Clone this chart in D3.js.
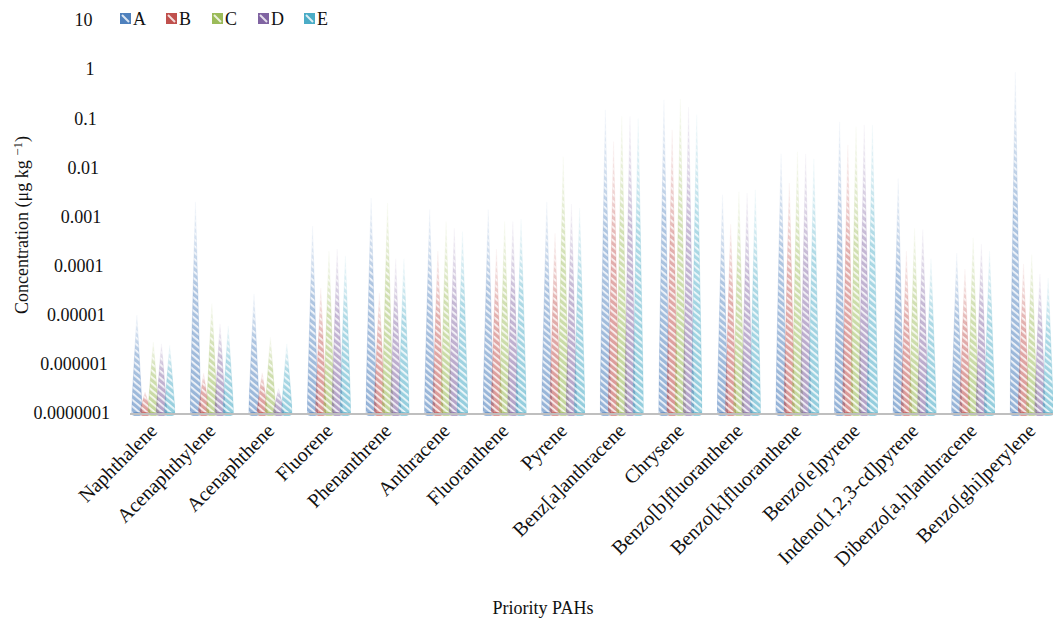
<!DOCTYPE html>
<html>
<head>
<meta charset="utf-8">
<script src="https://cdn.jsdelivr.net/npm/d3@7"></script>
<style>
  body { margin: 0; background: #fff; }
  text { font-family: "Liberation Serif", "Times New Roman", serif; fill: #111; }
</style>
</head>
<body>
<div class="chart"></div>
<script>
// categories and series
const categories = ["Naphthalene", "Acenaphthylene", "Acenaphthene", "Fluorene", "Phenanthrene",
    "Anthracene", "Fluoranthene", "Pyrene", "Benz[a]anthracene", "Chrysene",
    "Benzo[b]fluoranthene", "Benzo[k]fluoranthene", "Benzo[e]pyrene",
    "Indeno[1,2,3-cd]pyrene", "Dibenzo[a,h]anthracene", "Benzo[ghi]perylene"];
const seriesNames = ["A", "B", "C", "D", "E"];
const seriesColors = ["#4f81bd", "#c0504d", "#9bbb59", "#8064a2", "#4bacc6"];

const A = [1e-5, 2e-3, 2.7e-5, 6.4e-4, 2.4e-3, 1.4e-3, 1.4e-3, 2e-3, 0.15, 0.24, 2.8e-3, 0.019, 0.085, 6e-3, 1.8e-4, 0.88];
const B = [2.7e-7, 6.5e-7, 6.7e-7, 3.5e-5, 2.8e-5, 2e-4, 2.2e-4, 4.6e-4, 0.034, 0.059, 7e-4, 4.8e-3, 0.029, 2e-4, 8.6e-5, 1.1e-4];
const C = [2.8e-6, 1.7e-5, 3.5e-6, 2e-4, 1.9e-3, 8e-4, 8e-4, 0.0166, 0.11, 0.25, 3.2e-3, 0.021, 0.068, 5.8e-4, 3.7e-4, 1.7e-4];
const D = [2.6e-6, 6.6e-6, 3.2e-7, 2.2e-4, 1.4e-4, 5.8e-4, 8e-4, 1.8e-3, 0.11, 0.17, 3e-3, 0.019, 0.074, 5.5e-4, 2.8e-4, 6.8e-5];
const E = [2.4e-6, 6e-6, 2.6e-6, 1.6e-4, 1.4e-4, 5e-4, 8.9e-4, 1.5e-3, 0.1, 0.12, 3.5e-3, 0.015, 0.074, 1.4e-4, 2e-4, 5.6e-5];
const seriesValues = [A, B, C, D, E];

const yTicks = [1e-7, 1e-6, 1e-5, 1e-4, 1e-3, 1e-2, 1e-1, 1, 10];
const yTickLabels = ["0.0000001", "0.000001", "0.00001", "0.0001", "0.001", "0.01", "0.1", "1", "10"];

const width = 1053, height = 624;

const svg = d3.select(".chart").append("svg")
    .attr("width", width)
    .attr("height", height);

const defs = svg.append("defs");

// hatch pattern per series
seriesColors.forEach((c, i) => {
    const p = defs.append("pattern")
        .attr("id", "hatch" + i)
        .attr("patternUnits", "userSpaceOnUse")
        .attr("width", 5).attr("height", 5)
        .attr("patternTransform", "rotate(40)");
    p.append("rect").attr("width", 5).attr("height", 5).attr("fill", c).attr("fill-opacity", 0.6);
    p.append("rect").attr("width", 5).attr("height", 1.8).attr("fill", "#fff").attr("fill-opacity", 0.85);
});

// fade towards the tip
const grad = defs.append("linearGradient")
    .attr("id", "fade")
    .attr("x1", 0).attr("y1", 1).attr("x2", 0).attr("y2", 0);
grad.append("stop").attr("offset", 0).attr("stop-color", "#fff").attr("stop-opacity", 1);
grad.append("stop").attr("offset", 0.6).attr("stop-color", "#fff").attr("stop-opacity", 0.75);
grad.append("stop").attr("offset", 1).attr("stop-color", "#fff").attr("stop-opacity", 0.1);
defs.append("mask")
    .attr("id", "fadeMask")
    .attr("maskContentUnits", "objectBoundingBox")
    .append("rect")
    .attr("width", 1).attr("height", 1)
    .attr("fill", "url(#fade)");

// scales
const xScale = d3.scaleBand()
    .domain(categories)
    .range([124, 1061]);

const xInner = d3.scalePoint()
    .domain(seriesNames)
    .range([xScale.bandwidth() * 0.22, xScale.bandwidth() * 0.78]);

const yScale = d3.scaleLog()
    .domain([1e-7, 10])
    .range([413, 20]);

const baseW = 11;

// cones
const groups = svg.append("g").selectAll("g")
    .data(categories)
    .join("g")
    .attr("transform", d => `translate(${xScale(d)},0)`);

groups.each(function (cat, ci) {
    const g = d3.select(this);
    seriesNames.forEach((s, si) => {
        const v = seriesValues[si][ci];
        const cx = xInner(s);
        const y0 = yScale(1e-7), y1 = yScale(v);
        const path = d3.path();
        path.moveTo(cx - baseW / 2, y0);
        path.lineTo(cx, y1);
        path.lineTo(cx + baseW / 2, y0);
        path.closePath();
        g.append("path")
            .attr("d", path.toString())
            .attr("fill", `url(#hatch${si})`)
            .attr("stroke", seriesColors[si])
            .attr("stroke-opacity", 0.35)
            .attr("stroke-width", 0.8)
            .attr("mask", "url(#fadeMask)");
    });
});

// axis line
svg.append("line")
    .attr("x1", 130).attr("x2", 1053)
    .attr("y1", yScale(1e-7) + 1).attr("y2", yScale(1e-7) + 1)
    .attr("stroke", "#bfbfbf")
    .attr("stroke-width", 2);

// small bases over the axis
groups.each(function (cat) {
    const g = d3.select(this);
    seriesNames.forEach((s, si) => {
        g.append("ellipse")
            .attr("cx", xInner(s))
            .attr("cy", yScale(1e-7) + 1)
            .attr("rx", baseW / 2)
            .attr("ry", 1.8)
            .attr("fill", seriesColors[si])
            .attr("fill-opacity", 0.75);
    });
});

// y tick labels
svg.append("g").selectAll("text")
    .data(yTicks)
    .join("text")
    .attr("x", (d, i) => 110 - 2.2 * i)
    .attr("y", d => yScale(d))
    .attr("dy", "0.35em")
    .attr("text-anchor", "end")
    .style("font-size", "18px")
    .text((d, i) => yTickLabels[i]);

// x labels
svg.append("g").selectAll("text")
    .data(categories)
    .join("text")
    .attr("text-anchor", "end")
    .attr("transform", d => `translate(${xScale(d) + xScale.bandwidth() / 2 + 5},432) rotate(-45)`)
    .style("font-size", "20px")
    .text(d => d);

// axis titles
svg.append("text")
    .attr("x", 543).attr("y", 614)
    .attr("text-anchor", "middle")
    .style("font-size", "18px")
    .text("Priority PAHs");

const yTitle = svg.append("text")
    .attr("transform", "translate(28,225) rotate(-90)")
    .attr("text-anchor", "middle")
    .style("font-size", "18px");
yTitle.append("tspan").text("Concentration (μg kg ");
yTitle.append("tspan").attr("dy", -6).style("font-size", "13px").text("−1");
yTitle.append("tspan").attr("dy", 6).text(")");

// legend
const legend = svg.append("g").selectAll("g")
    .data(seriesNames)
    .join("g")
    .attr("transform", (d, i) => `translate(${120 + i * 46},13)`);
legend.append("rect")
    .attr("width", 11).attr("height", 11)
    .attr("fill", (d, i) => seriesColors[i]);
legend.append("line")
    .attr("x1", 2).attr("y1", 2).attr("x2", 9).attr("y2", 9)
    .attr("stroke", "#fff").attr("stroke-width", 2).attr("stroke-opacity", 0.8);
legend.append("text")
    .attr("x", 13).attr("y", 12)
    .style("font-size", "18px")
    .text(d => d);
</script>
</body>
</html>
